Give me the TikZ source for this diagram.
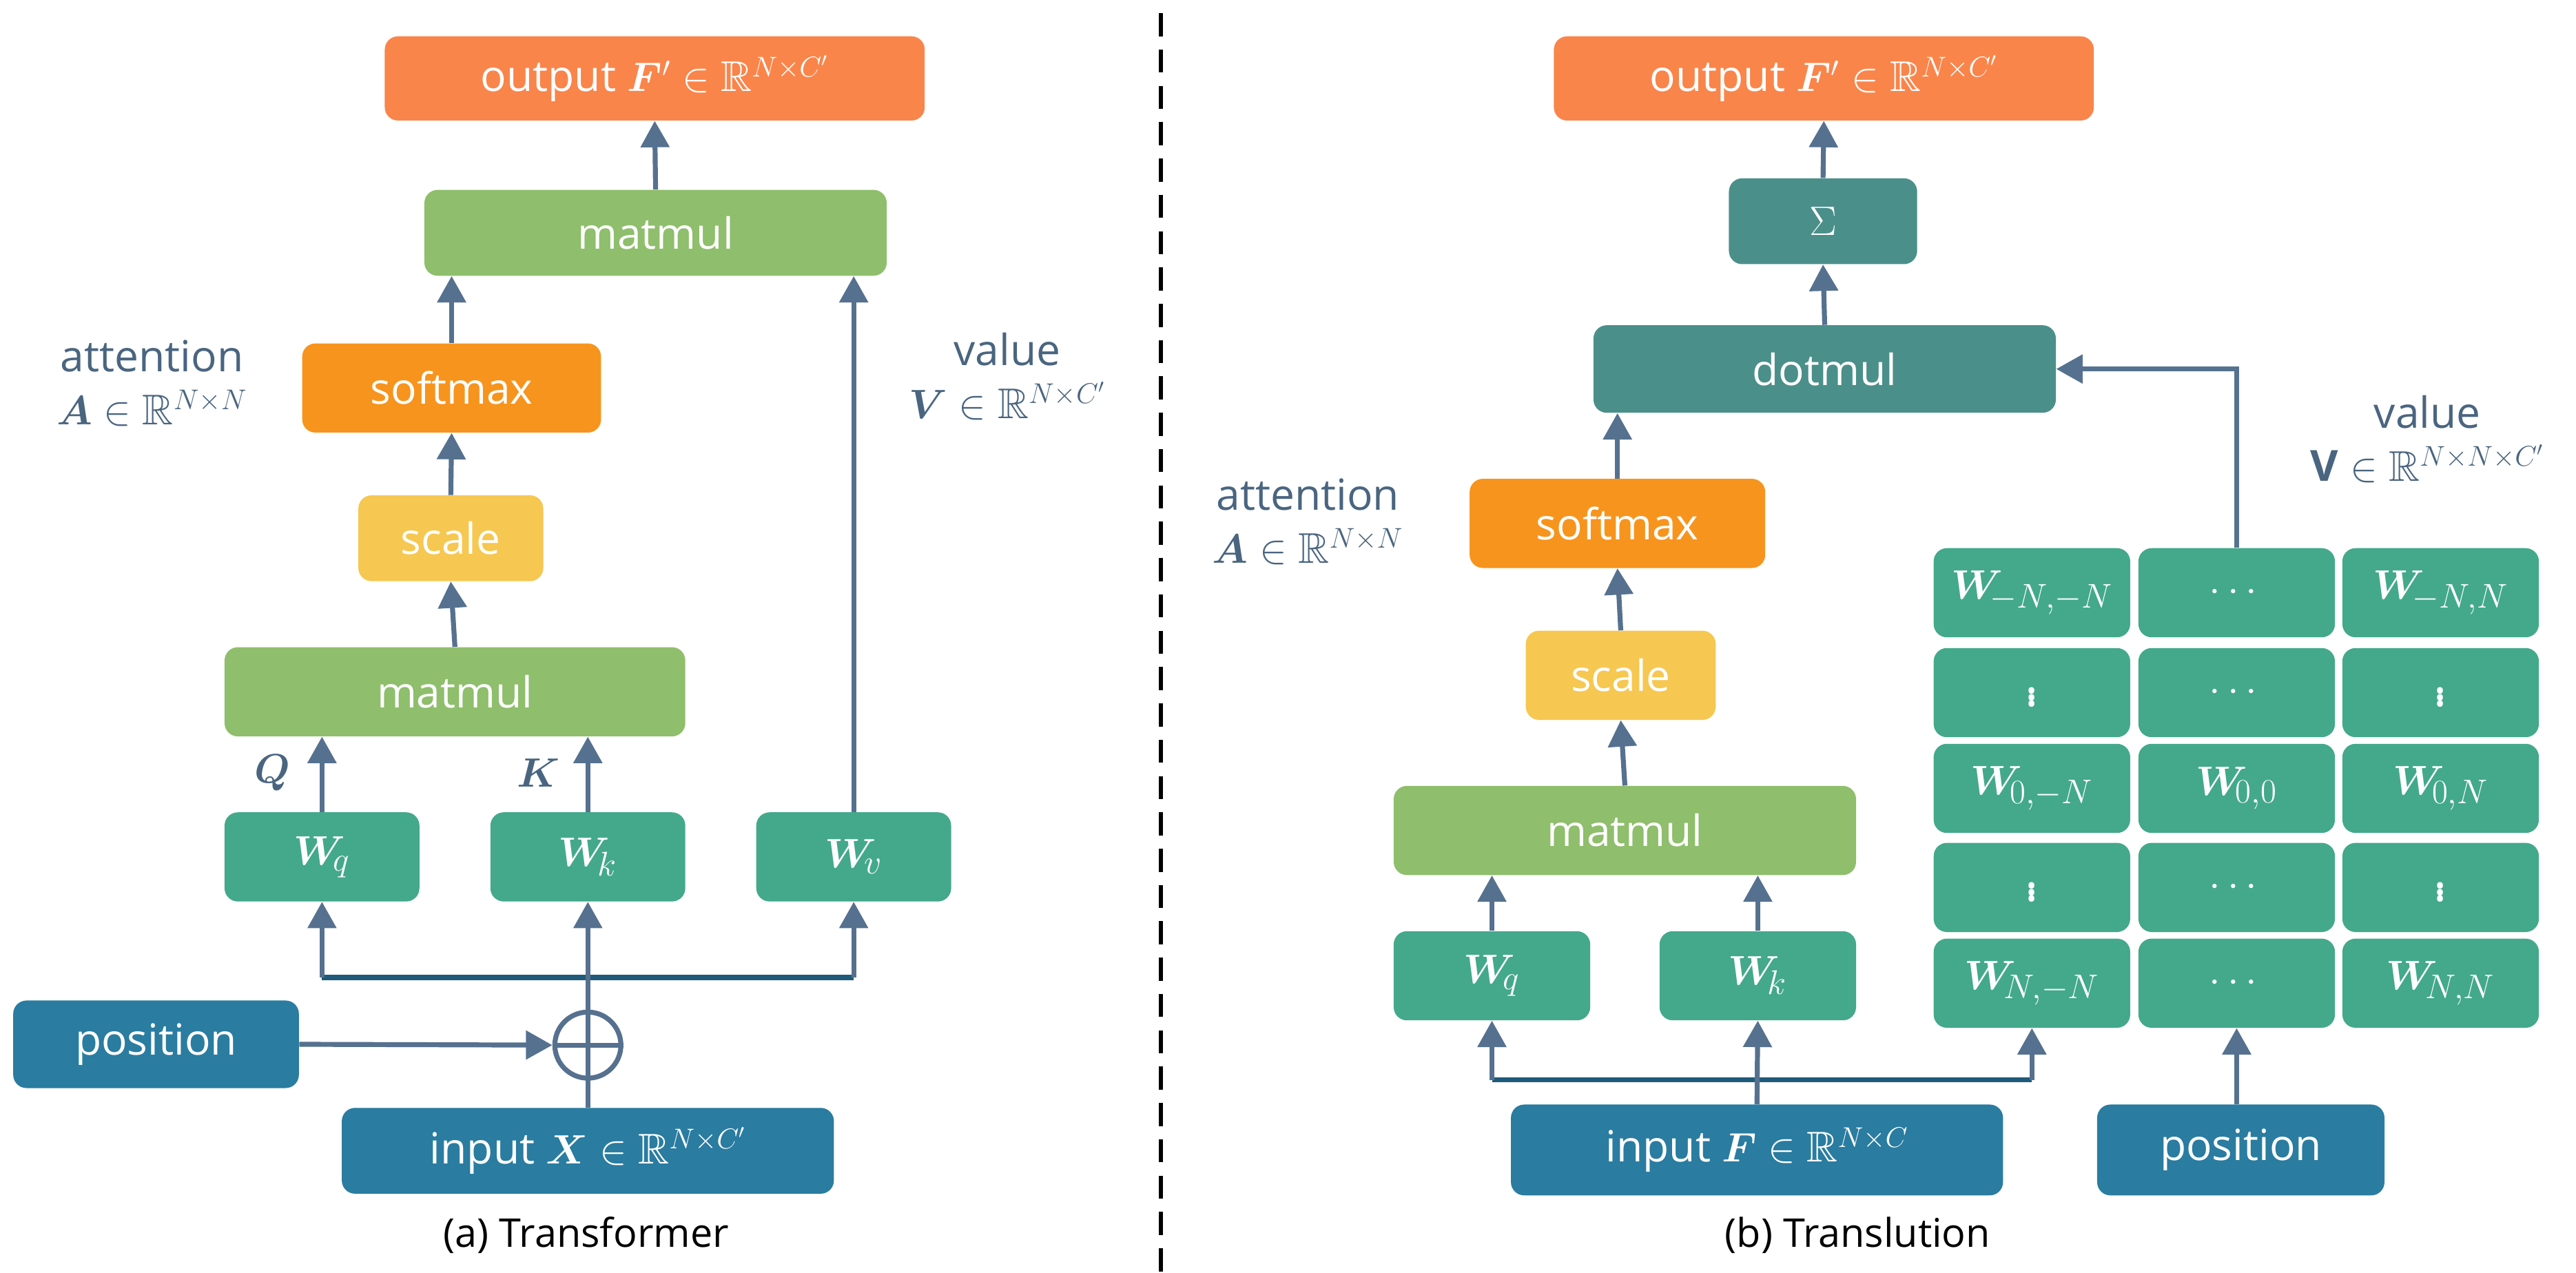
\documentclass[tikz,border=0pt]{standalone}
\usepackage{amsmath,amssymb,bm}
\usepackage{fontspec}
\setmainfont{Open Sans}
\usetikzlibrary{arrows.meta}
\definecolor{cout}{HTML}{F9854B}
\definecolor{cgreen}{HTML}{8FBE6C}
\definecolor{csoft}{HTML}{F7941D}
\definecolor{cscale}{HTML}{F6C751}
\definecolor{cteal}{HTML}{43A98A}
\definecolor{cblue}{HTML}{2A7CA0}
\definecolor{cdot}{HTML}{4B8F8A}
\definecolor{carr}{HTML}{56718F}
\definecolor{cline}{HTML}{1F5A7A}
\definecolor{clab}{HTML}{4A6580}
\newcommand{\mvd}{\text{\fontsize{30}{30}\selectfont$\vdots$}}
\tikzset{
 box/.style={draw=none,rounded corners=8pt,text=white,font=\fontsize{26}{30}\selectfont,inner sep=0pt},
 arr/.style={draw=carr,line width=3pt,-{Triangle[width=17pt,length=16pt]}},
 lin/.style={draw=cline,line width=3pt},
 lab/.style={text=clab,font=\fontsize{26}{32}\selectfont,align=center},
 captxt/.style={font=\fontsize{24}{28}\selectfont},
 mbox/.style={box,font=\fontsize{29}{30}\selectfont},
}
\begin{document}
\begin{tikzpicture}[x=1pt,y=-1pt]
\useasboundingbox (0,0) rectangle (1560,771);
% ---------- left ----------
\node[box,fill=cout,minimum width=327,minimum height=51] (out1) at (396.5,47.5) {output $\bm{F}'\in\mathbb{R}^{N\times C'}$};
\node[box,fill=cgreen,minimum width=280,minimum height=52] (mm1) at (397,141) {matmul};
\node[box,fill=csoft,minimum width=181,minimum height=54] (sm1) at (273.5,235) {softmax};
\node[box,fill=cscale,minimum width=112,minimum height=52] (sc1) at (273,326) {scale};
\node[box,fill=cgreen,minimum width=279,minimum height=54] (mm2) at (275.5,419) {matmul};
\node[mbox,fill=cteal,minimum width=118,minimum height=54] (wq1) at (195,519) {$\bm{W}_{\!q}$};
\node[mbox,fill=cteal,minimum width=118,minimum height=54] (wk1) at (356,519) {$\bm{W}_{\!k}$};
\node[mbox,fill=cteal,minimum width=118,minimum height=54] (wv1) at (517,519) {$\bm{W}_{\!v}$};
\node[box,fill=cblue,minimum width=173,minimum height=53] (pos1) at (94.5,632.5) {position};
\node[box,fill=cblue,minimum width=298,minimum height=52] (in1) at (356,697) {input $\bm{X}\in\mathbb{R}^{N\times C'}$};
\node[circle,draw=carr,line width=3pt,minimum size=40pt,inner sep=0pt] (op) at (356,633) {};
\draw[carr,line width=3pt] (op.north) -- (op.south) (op.west) -- (op.east);
\node[lab] (att1) at (92,232) {attention\\$\bm{A}\in\mathbb{R}^{N\times N}$};
\node[lab] (val1) at (610,228) {value\\$\bm{V}\in\mathbb{R}^{N\times C'}$};
\node[text=clab,font=\fontsize{27}{30}\selectfont] (q1) at (165,468) {$\bm{Q}$};
\node[text=clab,font=\fontsize{27}{30}\selectfont] (k1) at (326,468) {$\bm{K}$};
\node[captxt] (capa) at (355,748) {(a) Transformer};
\coordinate (hl) at (195,592);
\coordinate (hr) at (517,592);
\draw[arr] (mm1.north) -- (out1.south);
\draw[arr] (sm1.north) -- (sm1.north|-mm1.south);
\draw[arr] (sc1.north) -- (sm1.south);
\draw[arr] (mm2.north) -- (sc1.south);
\draw[arr] (wq1.north) -- (wq1.north|-mm2.south);
\draw[arr] (wk1.north) -- (wk1.north|-mm2.south);
\draw[arr] (wv1.north) -- (wv1.north|-mm1.south);
\draw[arr] (pos1.east) -- (op.west);
\draw[carr,line width=3pt] (in1.north) -- (op.south);
\draw[lin] (hl) -- (hr);
\draw[arr] (op.north) -- (wk1.south);
\draw[arr] (hl) -- (wq1.south);
\draw[arr] (hr) -- (wv1.south);
% divider
\draw[line width=2.5pt,dash pattern=on 14pt off 8pt] (703,8) -- (703,771);
% ---------- right ----------
\node[box,fill=cout,minimum width=327,minimum height=51] (out2) at (1104.5,47.5) {output $\bm{F}'\in\mathbb{R}^{N\times C'}$};
\node[mbox,fill=cdot,minimum width=114,minimum height=52] (sig) at (1104,134) {$\Sigma$};
\node[box,fill=cdot,minimum width=280,minimum height=53] (dot) at (1105,223.5) {dotmul};
\node[box,fill=csoft,minimum width=179,minimum height=54] (sm2) at (979.5,317) {softmax};
\node[box,fill=cscale,minimum width=115,minimum height=54] (sc2) at (981.5,409) {scale};
\node[box,fill=cgreen,minimum width=280,minimum height=54] (mm3) at (984,503) {matmul};
\node[mbox,fill=cteal,minimum width=119,minimum height=54] (wq2) at (903.5,591) {$\bm{W}_{\!q}$};
\node[mbox,fill=cteal,minimum width=119,minimum height=54] (wk2) at (1064.5,591) {$\bm{W}_{\!k}$};
\foreach \r/\y/\ta/\tb/\tc in {
 1/359/{$\bm{W}_{\!-N,-N}$}/{$\cdots$}/{$\bm{W}_{\!-N,N}$},
 2/419.5/{\mvd}/{$\cdots$}/{\mvd},
 3/477.5/{$\bm{W}_{\!0,-N}$}/{$\bm{W}_{\!0,0}$}/{$\bm{W}_{\!0,N}$},
 4/537.5/{\mvd}/{$\cdots$}/{\mvd},
 5/595.5/{$\bm{W}_{\!N,-N}$}/{$\cdots$}/{$\bm{W}_{\!N,N}$}} {
  \node[mbox,fill=cteal,minimum width=119,minimum height=54] (g\r1) at (1230.5,\y) {\ta};
  \node[mbox,fill=cteal,minimum width=119,minimum height=54] (g\r2) at (1354.5,\y) {\tb};
  \node[mbox,fill=cteal,minimum width=119,minimum height=54] (g\r3) at (1478,\y) {\tc};
}
\node[box,fill=cblue,minimum width=298,minimum height=55] (in2) at (1064,696.5) {input $\bm{F}\in\mathbb{R}^{N\times C}$};
\node[box,fill=cblue,minimum width=174,minimum height=55] (pos2) at (1357,696.5) {position};
\node[lab] (att2) at (792,316) {attention\\$\bm{A}\in\mathbb{R}^{N\times N}$};
\node[lab] (val2) at (1470,266) {value\\$\mathbf{V}\in\mathbb{R}^{N\times N\times C'}$};
\node[captxt] (capb) at (1125,748) {(b) Translution};
\coordinate (hl2) at (903.5,654);
\coordinate (hr2) at (1230.5,654);
\coordinate (vt) at (1354.5,223.5);
\draw[arr] (sig.north) -- (out2.south);
\draw[arr] (dot.north) -- (sig.south);
\draw[arr] (sm2.north) -- (sm2.north|-dot.south);
\draw[arr] (sc2.north) -- (sm2.south);
\draw[arr] (mm3.north) -- (sc2.south);
\draw[arr] (wq2.north) -- (wq2.north|-mm3.south);
\draw[arr] (wk2.north) -- (wk2.north|-mm3.south);
\draw[lin] (hl2) -- (hr2);
\draw[arr] (in2.north) -- (wk2.south);
\draw[arr] (hl2) -- (wq2.south);
\draw[arr] (hr2) -- (g51.south);
\draw[arr] (pos2.north-|g52.south) -- (g52.south);
\draw[arr] (g12.north) -- (vt) -- (dot.east);
\end{tikzpicture}
\end{document}
